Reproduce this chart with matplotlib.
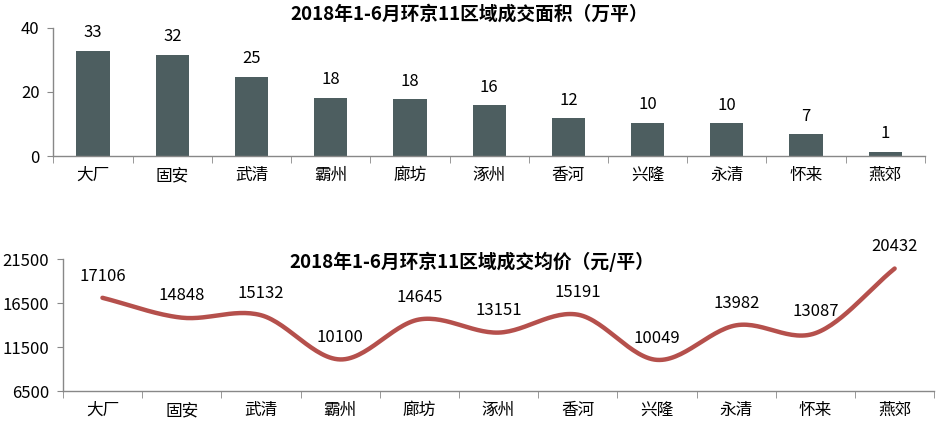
import numpy as np
import matplotlib.pyplot as plt

plt.rcParams['font.family'] = ['Noto Sans CJK SC', 'DejaVu Sans']

regions = ["大厂", "固安", "武清", "霸州", "廊坊", "涿州", "香河", "兴隆", "永清", "怀来", "燕郊"]
area = [32.9, 31.7, 24.8, 18.2, 17.7, 15.8, 11.8, 10.3, 10.2, 6.8, 1.3]
price = [17106, 14848, 15132, 10100, 14645, 13151, 15191, 10049, 13982, 13087, 20432]

bar_color = "#4d5e60"
line_color = "#b5504c"
axis_color = "#888888"


def smooth(y, n=30):
    # catmull-rom through the points, like Excel's smoothed line
    y = np.asarray(y, dtype=float)
    x = np.arange(len(y), dtype=float)
    px = np.concatenate([[2 * x[0] - x[1]], x, [2 * x[-1] - x[-2]]])
    py = np.concatenate([[2 * y[0] - y[1]], y, [2 * y[-1] - y[-2]]])
    xs, ys = [], []
    t = np.linspace(0, 1, n, endpoint=False)
    for i in range(1, len(px) - 2):
        for arr, out in ((px, xs), (py, ys)):
            p0, p1, p2, p3 = arr[i - 1], arr[i], arr[i + 1], arr[i + 2]
            out.append(0.5 * (2 * p1 + (-p0 + p2) * t
                              + (2 * p0 - 5 * p1 + 4 * p2 - p3) * t ** 2
                              + (-p0 + 3 * p1 - 3 * p2 + p3) * t ** 3))
    xs.append([x[-1]])
    ys.append([y[-1]])
    return np.concatenate(xs), np.concatenate(ys)


def style(ax):
    for s in ("top", "right"):
        ax.spines[s].set_visible(False)
    for s in ("left", "bottom"):
        ax.spines[s].set_color(axis_color)
        ax.spines[s].set_linewidth(1.0)
    ax.set_xlim(-0.5, len(regions) - 0.5)
    ax.set_xticks(np.arange(len(regions)))
    ax.set_xticklabels(regions, fontsize=12)
    ax.set_xticks(np.arange(len(regions) + 1) - 0.5, minor=True)
    ax.tick_params(axis="x", which="major", length=0, pad=8)
    ax.tick_params(axis="x", which="minor", length=5, color=axis_color)
    ax.tick_params(axis="y", length=4, color=axis_color, labelsize=12, pad=6)


fig = plt.figure(figsize=(9.38, 4.37), dpi=100)

ax1 = fig.add_axes([0.057, 0.643, 0.929, 0.293])
x = np.arange(len(regions))
ax1.bar(x, area, width=0.42, color=bar_color)
for xi, v in zip(x, area):
    ax1.text(xi, v + 3, f"{v:.0f}", ha="center", va="bottom", fontsize=12)
ax1.set_ylim(0, 40)
ax1.set_yticks([0, 20, 40])
style(ax1)
fig.text(0.5, 0.968, "2018年1-6月环京11区域成交面积（万平）", ha="center", va="center",
         fontsize=13.5, fontweight="bold")

ax2 = fig.add_axes([0.067, 0.105, 0.929, 0.302])
sx, sy = smooth(price)
ax2.plot(sx, sy, color=line_color, linewidth=3.2, solid_capstyle="round")
for xi, v in zip(x, price):
    ax2.text(xi, v + 1500, f"{v}", ha="center", va="bottom", fontsize=12)
ax2.set_ylim(6500, 21500)
ax2.set_yticks([6500, 11500, 16500, 21500])
style(ax2)
fig.text(0.503, 0.4, "2018年1-6月环京11区域成交均价（元/平）", ha="center", va="center",
         fontsize=13.5, fontweight="bold")

fig.savefig("out.png", dpi=100)
